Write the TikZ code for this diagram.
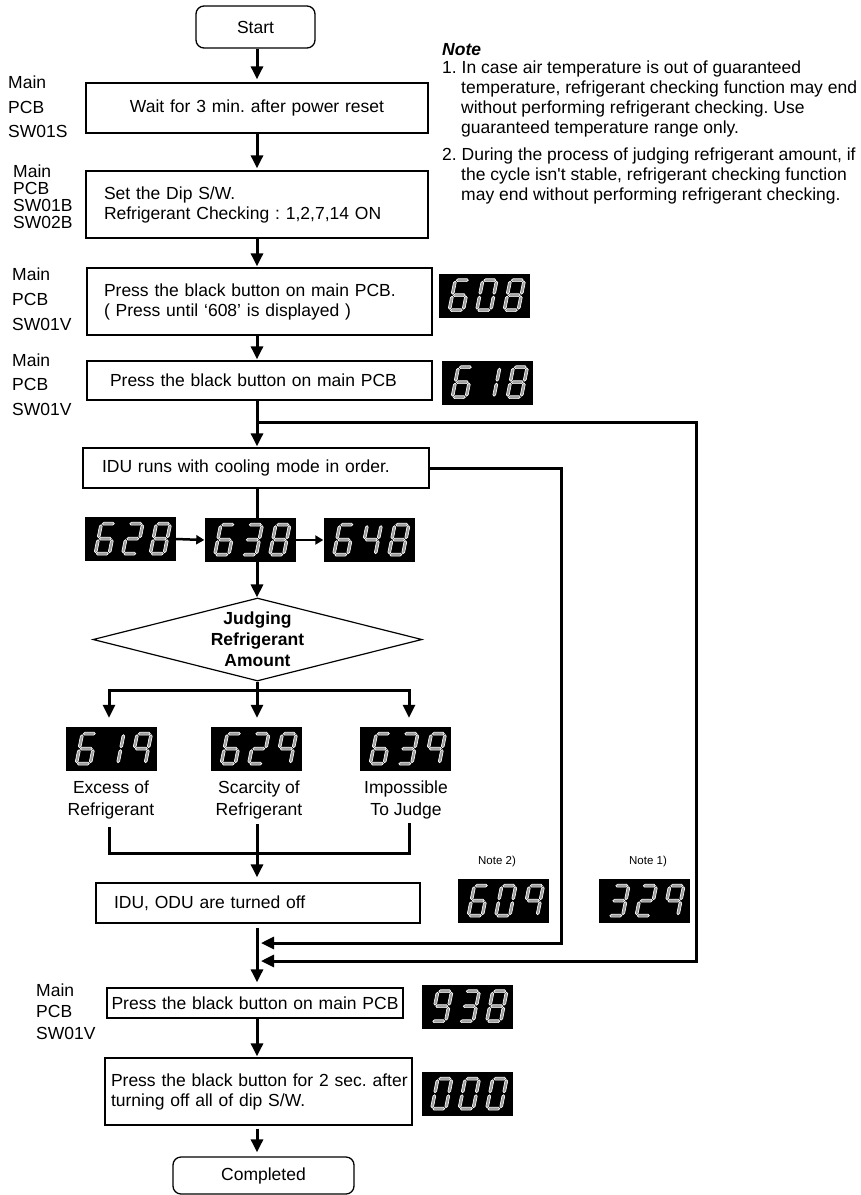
\documentclass[tikz,border=0pt]{standalone}
\usepackage{fontspec}
\setmainfont{Liberation Sans}
\usetikzlibrary{arrows.meta,shapes.geometric,backgrounds}
\frenchspacing

% seven-segment helpers
\newcommand\hseg[3]{\path[lcdseg] ({#1+1.0},{#3}) -- ({#1+2.4},{#3+1.4}) -- ({#2-2.4},{#3+1.4}) -- ({#2-1.0},{#3}) -- ({#2-2.4},{#3-1.4}) -- ({#1+2.4},{#3-1.4}) -- cycle;}
\newcommand\vseg[3]{\path[lcdseg] ({#1},{#2+1.0}) -- ({#1+1.4},{#2+2.4}) -- ({#1+1.4},{#3-2.4}) -- ({#1},{#3-1.0}) -- ({#1-1.4},{#3-2.4}) -- ({#1-1.4},{#2+2.4}) -- cycle;}
\newcommand\lcdsega{\hseg{0}{14}{30}}
\newcommand\lcdsegb{\vseg{14}{15}{30}}
\newcommand\lcdsegc{\vseg{14}{0}{15}}
\newcommand\lcdsegd{\hseg{0}{14}{0}}
\newcommand\lcdsege{\vseg{0}{0}{15}}
\newcommand\lcdsegf{\vseg{0}{15}{30}}
\newcommand\lcdsegg{\hseg{0}{14}{15}}
\newcommand\DZero{a,b,c,d,e,f}
\newcommand\DOne{b,c}
\newcommand\DTwo{a,b,g,e,d}
\newcommand\DThree{a,b,g,c,d}
\newcommand\DFour{f,g,b,c}
\newcommand\DSix{a,c,d,e,f,g}
\newcommand\DEight{a,b,c,d,e,f,g}
\newcommand\DNine{a,b,c,f,g}
\newcommand\DNineB{a,b,c,d,f,g}
\newcommand\lcddigit[2]{\edef\lcdlist{#2}\begin{scope}[shift={(#1,7.5)},xslant=0.2]\foreach \s in \lcdlist {\csname lcdseg\s\endcsname}\end{scope}}
\newcommand\lcdshow[4]{\begin{scope}[shift={(#1.south west)}]\lcddigit{10.5}{#2}\lcddigit{38}{#3}\lcddigit{65.5}{#4}\end{scope}}

\begin{document}
\begin{tikzpicture}[x=1pt,y=1pt,
  every node/.style={font=\fontsize{17.5}{20}\selectfont},
  box/.style={draw, line width=1.3pt, inner ysep=0pt},
  term/.style={draw, line width=1.3pt, rounded corners=8pt, inner sep=0pt},
  lbl/.style={align=left, inner sep=0pt},
  notetext/.style={anchor=base west, inner sep=0pt},
  disp/.style={fill=black, minimum width=91pt, minimum height=44pt, inner sep=0pt},
  lcdseg/.style={draw=white, line width=0.65pt, fill=black!38},
  line/.style={line width=3pt},
  flow/.style={line width=3pt, -{Triangle[length=13pt,width=12pt]}},
  sflow/.style={line width=2.5pt, -{Triangle[length=8pt,width=9pt]}}
]
\useasboundingbox (0,0) rectangle (861,-1195);

% ---- main boxes ----
\node[term, minimum width=119pt, minimum height=42pt] (start) at (255.5,-27) {Start};
\node[box, minimum height=50pt, text width=330pt, inner xsep=6pt, align=center] (b1) at (257,-108) {Wait for 3 min. after power reset};
\node[box, minimum height=67pt, text width=306pt, inner xsep=18pt, align=left] (b2) at (257,-204.5) {Set the Dip S/W.\\Refrigerant Checking : 1,2,7,14 ON};
\node[box, minimum height=67pt, text width=311pt, inner xsep=17pt, align=left] (b3) at (259.5,-301.5) {Press the black button on main PCB.\\( Press until `608' is displayed )};
\node[box, minimum height=39pt, text width=299pt, inner xsep=23pt, align=left] (b4) at (259.5,-380.5) {Press the black button on main PCB};
\node[box, minimum height=40pt, text width=308pt, inner xsep=19pt, align=left] (b5) at (256,-468) {IDU runs with cooling mode in order.};
\node[draw, diamond, aspect=4, line width=1.2pt, minimum width=329pt, minimum height=83pt, inner sep=0pt, align=center, font=\bfseries\fontsize{17.5}{21}\selectfont] (dia) at (257.5,-639.5) {Judging\\Refrigerant\\Amount};
\node[box, minimum height=40pt, text width=288pt, inner xsep=18pt, align=left] (b6) at (258,-903) {IDU, ODU are turned off};
\node[box, minimum height=30pt, text width=292pt, inner xsep=2pt, align=center] (b7) at (255,-1003) {Press the black button on main PCB};
\node[box, minimum height=67pt, text width=295pt, inner xsep=6pt, align=left] (b8) at (258.5,-1091.5) {\mbox{Press the black button for 2 sec. after}\\\mbox{turning off all of dip S/W.}};
\node[term, minimum width=181pt, minimum height=37pt] (end) at (263.5,-1175.5) {Completed};

% ---- side labels ----
\node[lbl, anchor=west, font=\fontsize{17.5}{24.5}\selectfont] (p1) at (8,-107) {Main\\PCB\\SW01S};
\node[lbl, anchor=west, font=\fontsize{17.5}{17}\selectfont] (p2) at (13,-197) {Main\\PCB\\SW01B\\SW02B};
\node[lbl, anchor=west, font=\fontsize{17.5}{25}\selectfont] (p3) at (12,-299) {Main\\PCB\\SW01V};
\node[lbl, anchor=west, font=\fontsize{17.5}{24.5}\selectfont] (p4) at (12,-384.5) {Main\\PCB\\SW01V};
\node[lbl, anchor=west, font=\fontsize{17.5}{21.5}\selectfont] (p5) at (36,-1011.5) {Main\\PCB\\SW01V};

% ---- outcome labels ----
\node[lbl, align=center, font=\fontsize{17.5}{22}\selectfont] (t619) at (111,-800) {Excess of\\Refrigerant};
\node[lbl, align=center, font=\fontsize{17.5}{22}\selectfont] (t629) at (259,-800) {Scarcity of\\Refrigerant};
\node[lbl, align=center, font=\fontsize{17.5}{22}\selectfont] (t639) at (406,-800) {Impossible\\To Judge};

% ---- notes ----
\node[notetext, font=\bfseries\itshape\fontsize{17.5}{20}\selectfont] (nt) at (442,-55) {Note};
\node[notetext] (n1) at (442,-73) {1. In case air temperature is out of guaranteed};
\node[notetext] (n2) at (461,-93) {temperature, refrigerant checking function may end};
\node[notetext] (n3) at (461,-113) {without performing refrigerant checking. Use};
\node[notetext] (n4) at (461,-133) {guaranteed temperature range only.};
\node[notetext] (n5) at (442,-160) {2. During the process of judging refrigerant amount, if};
\node[notetext] (n6) at (461,-180) {the cycle isn\textquotesingle t stable, refrigerant checking function};
\node[notetext] (n7) at (461,-200) {may end without performing refrigerant checking.};
\node[font=\fontsize{11.5}{13}\selectfont] (nn2) at (497,-862) {Note 2)};
\node[font=\fontsize{11.5}{13}\selectfont] (nn1) at (648,-862) {Note 1)};

% ---- displays ----
\node[disp] (d608) at (484.5,-295.5) {};
\node[disp] (d618) at (487.5,-382.5) {};
\node[disp] (d628) at (130.5,-539) {};
\node[disp] (d638) at (250,-540) {};
\node[disp] (d648) at (369,-540) {};
\node[disp] (d619) at (111.5,-749) {};
\node[disp] (d629) at (256.5,-749) {};
\node[disp] (d639) at (405.5,-749) {};
\node[disp] (d609) at (503.5,-901) {};
\node[disp] (d329) at (644,-901) {};
\node[disp] (d938) at (467,-1006.5) {};
\node[disp] (d000) at (467,-1094) {};
\lcdshow{d608}{\DSix}{\DZero}{\DEight}
\lcdshow{d618}{\DSix}{\DOne}{\DEight}
\lcdshow{d628}{\DSix}{\DTwo}{\DEight}
\lcdshow{d638}{\DSix}{\DThree}{\DEight}
\lcdshow{d648}{\DSix}{\DFour}{\DEight}
\lcdshow{d619}{\DSix}{\DOne}{\DNine}
\lcdshow{d629}{\DSix}{\DTwo}{\DNine}
\lcdshow{d639}{\DSix}{\DThree}{\DNine}
\lcdshow{d609}{\DSix}{\DZero}{\DNine}
\lcdshow{d329}{\DThree}{\DTwo}{\DNine}
\lcdshow{d938}{\DNineB}{\DThree}{\DEight}
\lcdshow{d000}{\DZero}{\DZero}{\DZero}

% ---- coordinates ----
\coordinate (X) at (257,0);
\coordinate (j1) at (257,-422);
\coordinate (r1b) at (696,-961);
\coordinate (r2b) at (561,-943);
\coordinate (br) at (257,-690);
\coordinate (brL) at (109,-690);
\coordinate (brR) at (409,-690);
\coordinate (oL) at (109,-827);
\coordinate (oC) at (257,-824);
\coordinate (oR) at (409,-823);
\coordinate (mC) at (257,-853);

% ---- connectors ----
\begin{pgfonlayer}{background}
\draw[flow, shorten >=3pt] (X |- start.south) -- (X |- b1.north);
\draw[flow, shorten >=2pt] (X |- b1.south) -- (X |- b2.north);
\draw[flow, shorten >=1pt] (X |- b2.south) -- (X |- b3.north);
\draw[flow, shorten >=1pt] (X |- b3.south) -- (X |- b4.north);
\draw[flow, shorten >=1pt] (X |- b4.south) -- (X |- b5.north);
\draw[flow, shorten >=4pt] (j1) -| (r1b) -- (X |- r1b);
\draw[flow, shorten >=4pt] (b5.east) -| (r2b) -- (X |- r2b);
\draw[flow] (X |- b5.south) -- (X |- dia.north);
\draw[sflow] (d628.east) -- (d638.west);
\draw[sflow] (d638.east) -- (d648.west);
\draw[flow, shorten >=9pt] (X |- dia.south) -- (X |- d629.north);
\draw[flow, shorten >=9pt] (br) -| (brL |- d619.north);
\draw[flow, shorten >=9pt] (br) -| (brR |- d639.north);
\draw[line] (oL) |- (mC);
\draw[line] (oR) |- (mC);
\draw[line] (oC) -- (mC);
\draw[flow, shorten >=5pt] (mC) -- (X |- b6.north);
\draw[flow, shorten <=4pt, shorten >=5pt] (X |- b6.south) -- (X |- b7.north);
\draw[flow, shorten >=1pt] (X |- b7.south) -- (X |- b8.north);
\draw[flow, shorten <=3pt, shorten >=4pt] (X |- b8.south) -- (X |- end.north);
\end{pgfonlayer}
\end{tikzpicture}
\end{document}
